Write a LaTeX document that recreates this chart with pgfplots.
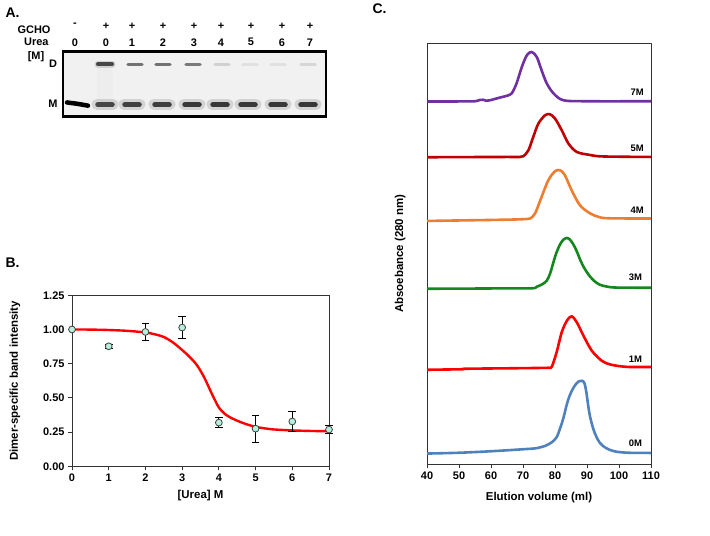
\documentclass[border=0pt]{standalone}
\usepackage{fontspec}
\setmainfont{Liberation Sans}
\usepackage{pgfplots}
\pgfplotsset{compat=1.18}
\definecolor{c7}{RGB}{112,48,160}
\definecolor{c5}{RGB}{192,0,0}
\definecolor{c4}{RGB}{237,125,49}
\definecolor{c3}{RGB}{20,135,30}
\definecolor{c1}{RGB}{255,0,0}
\definecolor{c0}{RGB}{79,129,189}
\definecolor{mfill}{RGB}{180,240,220}
\newcommand{\lab}{\bfseries\fontsize{11}{13}\selectfont}
\newcommand{\axlab}{\bfseries\fontsize{11.5}{13}\selectfont}
\newcommand{\panelfont}{\bfseries\fontsize{14}{16}\selectfont}
\begin{document}
\begin{tikzpicture}[x=1bp,y=1bp]
\path (0,0) rectangle (710,535);
\pgfplotsset{every tick label/.append style={font=\lab}, /pgf/number format/assume math mode=true}
% ---------- Panel A (gel) ----------
\node[anchor=west,font=\panelfont] at (2,523) {A.};
\node[anchor=east,font=\lab] at (54,506) {GCHO};
\node[anchor=east,font=\lab] at (52,493) {Urea};
\node[font=\lab] at (36,479) {[M]};
\node[font=\lab] at (53,472) {D};
\node[font=\lab] at (53,432) {M};
\node[font=\lab] at (75,510) {-};
\foreach \x in {106,132,163,194,221,251,282,310} {\node[font=\lab] at (\x,509) {+};}
\foreach \x/\t in {75/0,106/0,132/1,163/2,194/3,221/4,251/5,282/6,310/7} {\node[font=\lab] at (\x,493) {\t};}
\begin{axis}[at={(63bp,419bp)}, anchor=south west, scale only axis, width=263bp, height=65bp,
  xmin=63, xmax=326, ymin=0, ymax=65, ticks=none, axis line style={line width=2.8bp},
  axis background/.style={fill=gray!11}, clip=true]
% smear lane 1
\addplot[line width=16bp, black!8, opacity=0.5, line cap=round] coordinates {(105,20)(105,42)};
% M bands halo
\addplot[line width=11bp, black!35, line cap=round, opacity=0.4] coordinates {(97,12)(113,12)};
\addplot[line width=11bp, black!35, line cap=round, opacity=0.4] coordinates {(124,12)(140,12)};
\addplot[line width=11bp, black!35, line cap=round, opacity=0.4] coordinates {(154,12)(170,12)};
\addplot[line width=11bp, black!35, line cap=round, opacity=0.4] coordinates {(184,12)(200,12)};
\addplot[line width=11bp, black!35, line cap=round, opacity=0.4] coordinates {(212,12)(228,12)};
\addplot[line width=11bp, black!35, line cap=round, opacity=0.4] coordinates {(240,12)(256,12)};
\addplot[line width=11bp, black!35, line cap=round, opacity=0.4] coordinates {(270,12)(286,12)};
\addplot[line width=11bp, black!35, line cap=round, opacity=0.4] coordinates {(300,12)(316,12)};
% M bands core
\addplot[line width=5.5bp, black!72, line cap=round] coordinates {(98,11.5)(112,11.5)};
\addplot[line width=5.5bp, black!75, line cap=round] coordinates {(125,11.5)(139,11.5)};
\addplot[line width=5.5bp, black!76, line cap=round] coordinates {(155,11.5)(169,11.5)};
\addplot[line width=5.5bp, black!78, line cap=round] coordinates {(185,11.5)(199,11.5)};
\addplot[line width=5.5bp, black!78, line cap=round] coordinates {(213,11.5)(227,11.5)};
\addplot[line width=5.5bp, black!78, line cap=round] coordinates {(241,11.5)(255,11.5)};
\addplot[line width=5.5bp, black!78, line cap=round] coordinates {(271,11.5)(285,11.5)};
\addplot[line width=5.5bp, black!78, line cap=round] coordinates {(301,11.5)(315,11.5)};
% lane 0 monomer
\addplot[line width=4.5bp, black, line cap=round] coordinates {(67,13.8)(77,12.5)(88,10.6)};
% D bands
\addplot[line width=7bp, black!30, line cap=round, opacity=0.5] coordinates {(98,52)(112,52)};
\addplot[line width=4bp, black!72, line cap=round] coordinates {(98,52)(112,52)};
\addplot[line width=3.5bp, black!55, line cap=round] coordinates {(128,51.5)(142,51.5)};
\addplot[line width=3.5bp, black!55, line cap=round] coordinates {(156,51.5)(170,51.5)};
\addplot[line width=3.5bp, black!52, line cap=round] coordinates {(186,51.5)(200,51.5)};
\addplot[line width=3.5bp, black!18, line cap=round] coordinates {(215,51.5)(229,51.5)};
\addplot[line width=3.5bp, black!12, line cap=round] coordinates {(243,51.5)(257,51.5)};
\addplot[line width=3.5bp, black!12, line cap=round] coordinates {(271,51.5)(285,51.5)};
\addplot[line width=3.5bp, black!16, line cap=round] coordinates {(301,51.5)(315,51.5)};
\end{axis}
% ---------- Panel B ----------
\node[anchor=west,font=\panelfont] at (2,273) {B.};
\begin{axis}[at={(72bp,69bp)}, anchor=south west, scale only axis, width=257bp, height=171bp,
  xmin=0, xmax=7, ymin=0, ymax=1.25, xtick={0,1,...,7}, ytick={0,0.25,0.5,0.75,1,1.25},
  yticklabel style={/pgf/number format/.cd, fixed, fixed zerofill, precision=2},
  tick align=outside, xtick pos=bottom, ytick pos=left, major tick length=4bp,
  axis line style={black!80, line width=0.8bp}, tick style={black!80, line width=0.8bp},
  clip=false,
  xlabel={[Urea] M}, ylabel={Dimer-specific band intensity},
  every axis x label/.style={at={(axis description cs:0.5,-0.17)}, anchor=center, font=\axlab},
  every axis y label/.style={at={(axis description cs:-0.222,0.5)}, rotate=90, anchor=center, font=\axlab}]
\addplot[c1, line width=2.4bp, smooth] coordinates {
(0,1.000)(0.5,0.999)(1,0.996)(1.5,0.990)(2,0.978)(2.25,0.965)(2.5,0.945)(2.75,0.905)
(3,0.850)(3.2,0.800)(3.4,0.740)(3.6,0.650)(3.8,0.535)(4.0,0.430)(4.2,0.375)(4.4,0.345)
(4.6,0.322)(4.8,0.303)(5.0,0.288)(5.25,0.277)(5.5,0.269)(6,0.262)(6.5,0.258)(7,0.256)};
\addplot[only marks, mark=*, mark size=3.4bp, mark options={fill=mfill, draw=black!75, line width=0.8bp},
  error bars/.cd, y dir=both, y explicit,
  error bar style={black, line width=0.8bp},
  error mark options={rotate=90, mark size=3.8bp, black, line width=0.8bp}]
  table[x=x, y=y, y error=e] {
x y e
0 1.000 0
1 0.877 0.015
2 0.982 0.060
3 1.014 0.080
4 0.319 0.036
5 0.275 0.098
6 0.327 0.075
7 0.268 0.028
};
\end{axis}
% ---------- Panel C ----------
\node[anchor=west,font=\panelfont] at (369,527) {C.};
\begin{axis}[at={(427bp,71bp)}, anchor=south west, scale only axis, width=224bp, height=421bp,
  xmin=40, xmax=110, ymin=0, ymax=421, xtick={40,50,...,110}, ytick=\empty,
  tick align=outside, xtick pos=bottom, major tick length=4bp,
  axis line style={black!80, line width=0.8bp}, tick style={black!80, line width=0.8bp},
  xlabel={Elution volume (ml)}, ylabel={Absoebance (280 nm)},
  every axis x label/.style={at={(axis description cs:0.5,-0.078)}, anchor=center, font=\axlab},
  every axis y label/.style={at={(axis description cs:-0.12,0.5)}, rotate=90, anchor=center, font=\axlab},
  line join=round, every axis plot/.append style={smooth, tension=0.5, line width=2.6bp}]
% 0M
\addplot[c0] coordinates {
(40,10.7)(50,11.5)(60,13)(70,15)(74,16)(77,18.5)(79,22)(80.5,27)(81.6,36)(82.6,46)(83.7,60)
(84.5,68)(85.5,75)(86.5,80)(87.5,83)(88.5,83.5)(89.2,81)(89.8,72)(90.4,58)(91,47)(92,35)
(93,27)(94,21.5)(95.1,18)(97,14.5)(99.3,12.5)(103,11.5)(110,11.3)};
% 1M
\addplot[c1] coordinates {
(40,94.5)(51,95)(52,95.5)(67,96)(75,96.3)(78,96.5)(79,97.5)(80.5,112)(82.1,132)(83.7,143.5)(85.2,148)
(86.8,142)(88.9,128.5)(91.5,113.5)(94.6,103.5)(97,100)(99.3,98.5)(103,97.3)(110,97.3)};
% 3M
\addplot[c3] coordinates {
(40,175.5)(55,175.7)(65,175.9)(73,176)(74.3,177.5)(76,180)(77.4,183.5)(78.5,191)(79.5,202)(80.5,212)(81.6,220)(82.6,224.5)(83.7,226.3)
(84.7,224.5)(85.7,220)(86.8,213)(87.8,205)(89,197)(90.4,190)(92,184)(94,179.5)(96.5,177.5)(99.2,176.7)(110,176.5)};
% 4M
\addplot[c4] coordinates {
(40,243.3)(50,243.8)(60,244.3)(68,244.8)(71,245.2)(72.2,245.7)(73.75,250.7)(75.8,267.3)(77.9,284)
(80,293)(81.6,294)(83.1,289)(85.2,274)(87.8,259)(90.9,251)(93.5,247.5)(96.6,246)(110,245.7)};
% 5M
\addplot[c5] coordinates {
(40,307)(55,307.2)(65,307.3)(69,307.3)(70.1,308)(71.7,314)(73.2,327.3)(74.8,340.7)(76.9,349)(78.4,350)(80,345.7)
(82.1,334)(84.2,320.7)(86.8,312.3)(90.9,309.3)(95,307.8)(110,307.3)};
% 7M
\addplot[c7] coordinates {
(40,362.7)(50,362.8)(55,363)(56.5,364.3)(57.5,364.5)(58.5,363.5)(59.7,364)(62.8,366.7)(65,368.5)(66.5,371)(68,381)
(69.6,397)(71.2,409)(72.7,412.3)(74.3,407.3)(75.8,394)(77.4,381)(79.5,371)(82.6,364)
(90,363)(110,363)};
\node[anchor=east, font=\bfseries\fontsize{9.5}{10}\selectfont] at (axis cs:108.8,372) {7M};
\node[anchor=east, font=\bfseries\fontsize{9.5}{10}\selectfont] at (axis cs:108.8,316) {5M};
\node[anchor=east, font=\bfseries\fontsize{9.5}{10}\selectfont] at (axis cs:108.8,254) {4M};
\node[anchor=east, font=\bfseries\fontsize{9.5}{10}\selectfont] at (axis cs:108.3,187) {3M};
\node[anchor=east, font=\bfseries\fontsize{9.5}{10}\selectfont] at (axis cs:108.3,105) {1M};
\node[anchor=east, font=\bfseries\fontsize{9.5}{10}\selectfont] at (axis cs:108.3,21) {0M};
\end{axis}
\end{tikzpicture}
\end{document}
